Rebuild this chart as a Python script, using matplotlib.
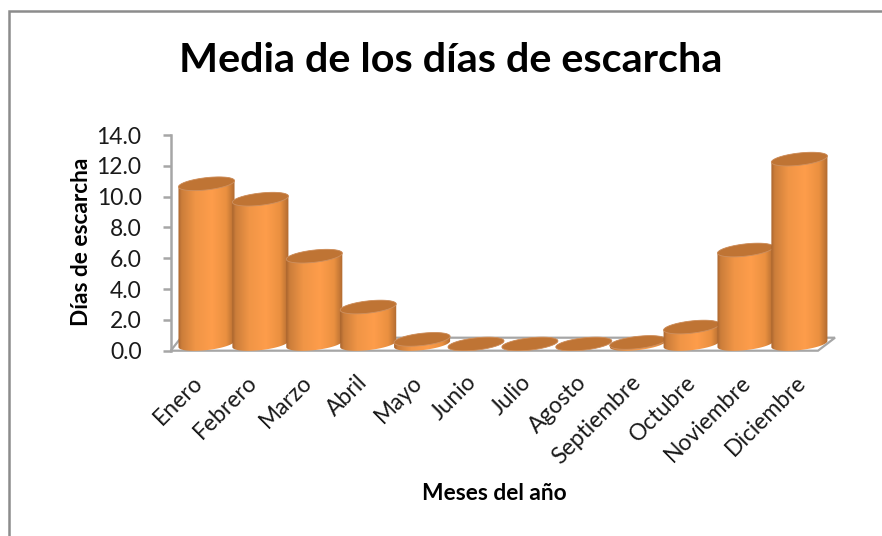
import numpy as np
from matplotlib import pyplot as plt
from matplotlib.colors import LinearSegmentedColormap
from matplotlib.patches import Polygon, Rectangle

meses = ['Enero', 'Febrero', 'Marzo', 'Abril', 'Mayo', 'Junio', 'Julio',
         'Agosto', 'Septiembre', 'Octubre', 'Noviembre', 'Diciembre']
dias = [10.4, 9.4, 5.7, 2.4, 0.3, 0.0, 0.0, 0.0, 0.1, 1.1, 6.1, 12.0]
ticks_y = [0, 2, 4, 6, 8, 10, 12, 14]

W, H = 882, 536
plt.rcParams['font.family'] = ['Lato', 'DejaVu Sans']

fig = plt.figure(figsize=(W/100, H/100), dpi=100)

# marco exterior del grafico
fig.add_artist(Rectangle((9/W, -0.01), (W+5)/W, 1.01 - 11/H, transform=fig.transFigure,
                         fill=False, ec='#8c8c8c', lw=1.8))

left, right, y0, y14 = 170.7, 835., 350.7, 135.
ax = fig.add_axes([left/W, 1 - y0/H, (right-left)/W, (y0-y14)/H])
paso = 53.9
x_ini = 206.5
ax.set_xlim((left-x_ini)/paso, (right-x_ini)/paso)
ax.set_ylim(0, 14)
ax.patch.set_alpha(0)
for s in ['top', 'right', 'bottom']:
    ax.spines[s].set_visible(False)
ax.spines['left'].set_color('#a6a6a6')
ax.spines['left'].set_linewidth(1.8)

# escalas px -> datos
sx = 1/paso
sy = 14/(y0-y14)

# suelo en perspectiva
suelo = Polygon([(ax.get_xlim()[0], 0), ((818-x_ini)/paso, 0),
                 (ax.get_xlim()[1], 13*sy), ((181-x_ini)/paso, 13*sy)],
                closed=True, fc='white', ec='#a6a6a6', lw=1.6, clip_on=False, zorder=1)
ax.add_patch(suelo)

cmap = LinearSegmentedColormap.from_list('cil', [(0, '#a8642e'), (0.06, '#cb7d3a'), (0.3, '#f09546'),
                                                 (0.6, '#fe9d4b'), (0.85, '#ea9040'), (1, '#b06a30')])
grad = np.linspace(0, 1, 128).reshape(1, -1)

a, b = 28.2, 6.1
tilt = np.radians(6.5)
t = np.linspace(0, 2*np.pi, 121)
base = 6.7*sy


def elipse(cx, cy, t):
    # elipse inclinada, radios en px
    ex = a*np.cos(t)*np.cos(tilt) - b*np.sin(t)*np.sin(tilt)
    ey = a*np.cos(t)*np.sin(tilt) + b*np.sin(t)*np.cos(tilt)
    return np.column_stack([cx + ex*sx, cy + ey*sy])


for i, v in enumerate(dias):
    z = 3 + i
    abajo = elipse(i, base, np.linspace(np.pi, 2*np.pi, 60))
    arriba = elipse(i, base + v, np.linspace(0, np.pi, 60))
    cuerpo = Polygon(np.vstack([abajo, arriba]), closed=True, transform=ax.transData,
                     fc='none', ec='none', zorder=z)
    ax.add_patch(cuerpo)
    im = ax.imshow(grad, cmap=cmap, aspect='auto', zorder=z, interpolation='bilinear',
                   extent=(i - a*sx, i + a*sx, 0, 14))
    im.set_clip_path(cuerpo)
    ax.add_patch(Polygon(elipse(i, base + v, t), closed=True, fc='#bf7434', ec='#cd9060',
                         lw=0.6, zorder=z + 0.5))

ax.set_xlim((left-x_ini)/paso, (right-x_ini)/paso)
ax.set_ylim(0, 14)

ax.set_yticks(ticks_y)
ax.set_yticklabels(['%.1f' % v for v in ticks_y], fontsize=16.5, color='#1a1a1a')
ax.tick_params(axis='y', length=6, width=1.8, color='#a6a6a6', pad=15)

# las etiquetas van un poco mas separadas que las columnas
pos_x = [(192 + 54.8*i - x_ini)/paso for i in range(len(meses))]
ax.set_xticks(pos_x)
ax.set_xticklabels(meses, rotation=45, ha='right', rotation_mode='anchor', fontsize=16.5, color='#1a1a1a')
ax.tick_params(axis='x', length=0, pad=15)

fig.text(451/W, 1 - 60/H, 'Media de los días de escarcha', ha='center', va='center',
         fontsize=29.8, fontweight='bold', color='black')
fig.text(82/W, 1 - 242/H, 'Días de escarcha', rotation=90, ha='center', va='center',
         fontsize=16.3, fontweight='bold', color='black')
fig.text(494/W, 1 - 494/H, 'Meses del año', ha='center', va='center',
         fontsize=16.4, fontweight='bold', color='black')

fig.savefig('out.png', dpi=100, facecolor='white')
